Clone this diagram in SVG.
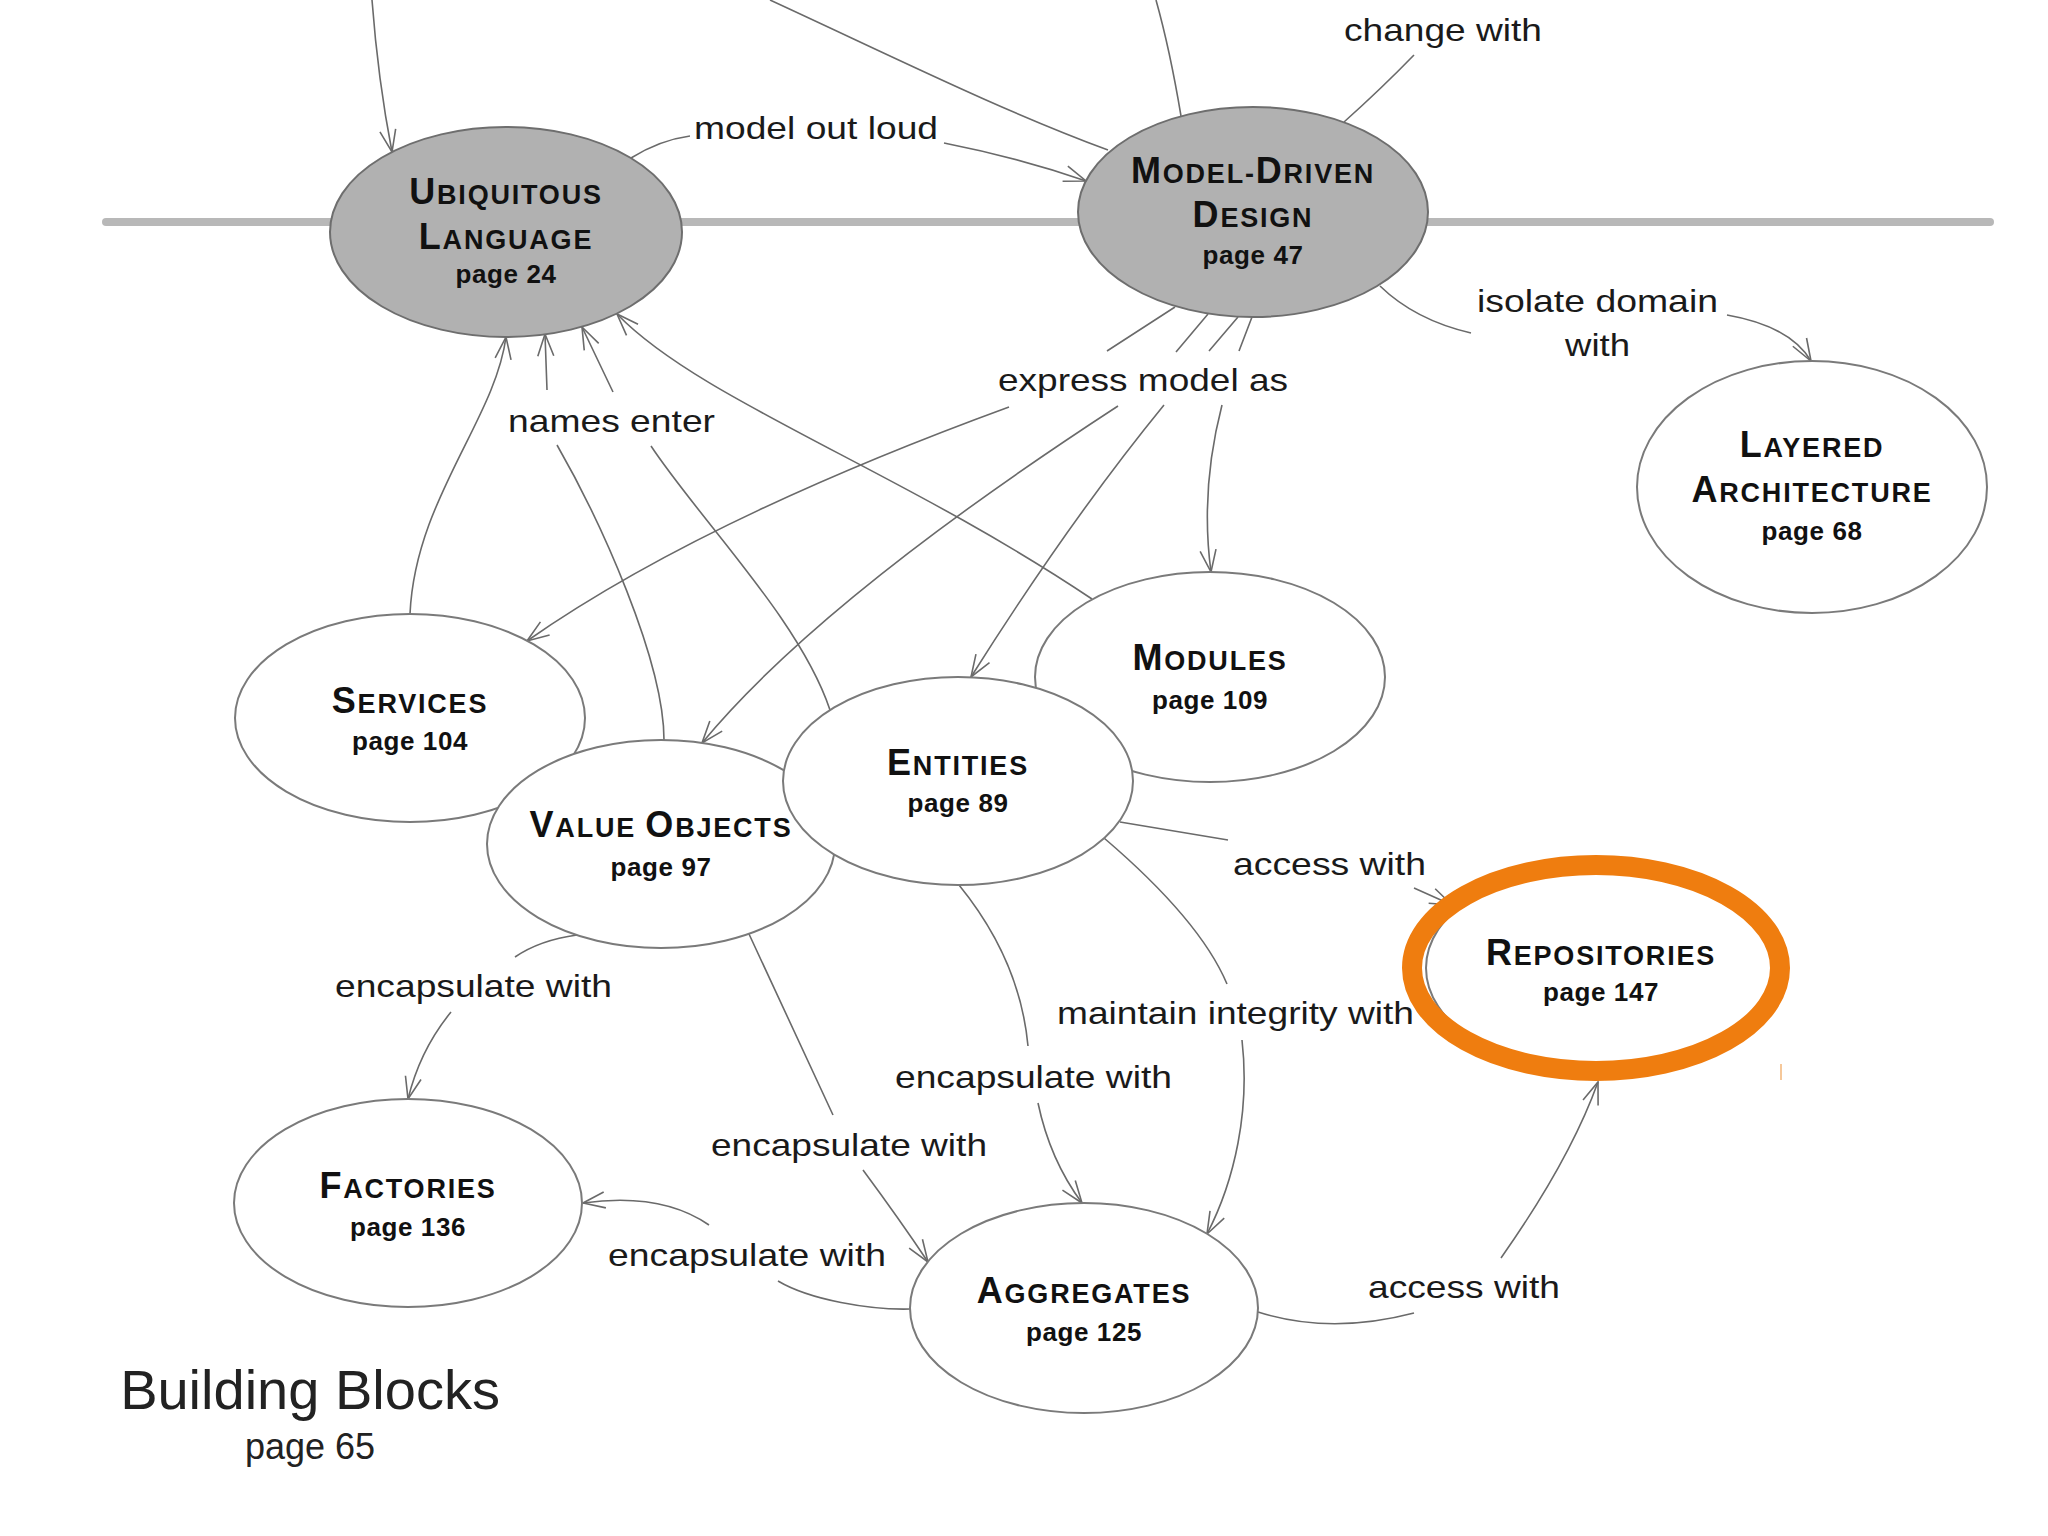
<svg xmlns="http://www.w3.org/2000/svg" width="2048" height="1536" viewBox="0 0 2048 1536">
<defs>
<style>
.band{stroke:#b8b8b8;stroke-width:8;stroke-linecap:round;fill:none}
.node{fill:#fff;stroke:#7a7a7a;stroke-width:2}
.core{fill:#b1b1b1;stroke:#6e6e6e;stroke-width:2}
.conn{fill:none;stroke:#6a6a6a;stroke-width:1.6;marker-end:url(#arr)}
.plain{fill:none;stroke:#6a6a6a;stroke-width:1.6}
.t{font-family:'Liberation Sans',Arial,sans-serif;font-weight:bold;fill:#111;text-anchor:middle;letter-spacing:1.8px}
.b{font-size:36px}
.s{font-size:27px}
.pg{font-family:'Liberation Sans',Arial,sans-serif;font-weight:bold;font-size:26px;fill:#111;text-anchor:middle;letter-spacing:0.6px}
.lbl{font-family:'Liberation Sans',Arial,sans-serif;font-size:32px;fill:#1a1a1a}
.ttl{font-family:'Liberation Sans',Arial,sans-serif;fill:#222;text-anchor:middle}
</style>
<marker id="arr" markerUnits="userSpaceOnUse" markerWidth="30" markerHeight="24" viewBox="-26 -12 28 24" refX="0" refY="0" orient="auto">
<path d="M-22,-8 L0,0 L-22,8" fill="none" stroke="#6a6a6a" stroke-width="1.6"/>
</marker>
</defs>
<rect x="0" y="0" width="2048" height="1536" fill="#fff"/>
<line class="band" x1="106" y1="222" x2="1990" y2="222"/>

<g id="connectors">
<path class="conn" d="M372,0 Q378,80 392,152"/>
<path class="plain" d="M770,0 C900,60 1000,110 1108,150"/>
<path class="plain" d="M1156,0 Q1170,50 1181,116"/>
<path class="plain" d="M1344,122 Q1382,88 1414,55"/>
<path class="conn" d="M631,158 Q660,140 690,136 M944,143 Q1020,158 1086,181"/>
<path class="conn" d="M1380,286 Q1415,320 1471,333 M1727,315 Q1790,326 1811,361"/>
<path class="conn" d="M1175,307 L1107,351 M1009,407 Q700,520 527,641"/>
<path class="conn" d="M1208,314 L1176,352 M1118,406 Q820,600 702,743"/>
<path class="conn" d="M1238,317 L1209,351 M1164,405 Q1070,520 971,677"/>
<path class="conn" d="M1252,317 L1239,351 M1222,405 Q1200,490 1211,572"/>
<path class="conn" d="M410,614 C415,500 495,420 506,337"/>
<path class="conn" d="M664,740 C664,660 600,520 557,445 M547,390 L545,334"/>
<path class="conn" d="M830,710 C800,620 700,520 651,446 M613,392 L582,327"/>
<path class="conn" d="M1092,599 C900,470 700,400 617,314"/>
<path class="conn" d="M577,935 Q540,940 515,957 M451,1012 Q420,1050 408,1099"/>
<path class="conn" d="M749,934 L833,1115 M863,1170 Q900,1220 928,1262"/>
<path class="conn" d="M910,1309 C870,1310 810,1300 778,1281 M709,1225 C680,1205 640,1195 583,1203"/>
<path class="conn" d="M959,885 Q1020,960 1028,1046 M1038,1103 Q1050,1160 1082,1203"/>
<path class="conn" d="M1104,838 Q1200,920 1227,984 M1242,1040 C1250,1110 1235,1180 1207,1234"/>
<path class="conn" d="M1120,822 L1228,840 M1414,888 L1452,905"/>
<path class="conn" d="M1258,1312 Q1330,1335 1414,1313 M1501,1258 Q1570,1160 1598,1082"/>
</g>

<g id="labels">
<text class="lbl" x="1344" y="41" textLength="198" lengthAdjust="spacingAndGlyphs">change with</text>
<text class="lbl" x="694" y="139" textLength="244" lengthAdjust="spacingAndGlyphs">model out loud</text>
<text class="lbl" x="1477" y="312" textLength="241" lengthAdjust="spacingAndGlyphs">isolate domain</text>
<text class="lbl" x="1565" y="356" textLength="65" lengthAdjust="spacingAndGlyphs">with</text>
<text class="lbl" x="998" y="391" textLength="290" lengthAdjust="spacingAndGlyphs">express model as</text>
<text class="lbl" x="508" y="432" textLength="207" lengthAdjust="spacingAndGlyphs">names enter</text>
<text class="lbl" x="335" y="997" textLength="277" lengthAdjust="spacingAndGlyphs">encapsulate with</text>
<text class="lbl" x="711" y="1156" textLength="276" lengthAdjust="spacingAndGlyphs">encapsulate with</text>
<text class="lbl" x="608" y="1266" textLength="278" lengthAdjust="spacingAndGlyphs">encapsulate with</text>
<text class="lbl" x="895" y="1088" textLength="277" lengthAdjust="spacingAndGlyphs">encapsulate with</text>
<text class="lbl" x="1057" y="1024" textLength="357" lengthAdjust="spacingAndGlyphs">maintain integrity with</text>
<text class="lbl" x="1233" y="875" textLength="193" lengthAdjust="spacingAndGlyphs">access with</text>
<text class="lbl" x="1368" y="1298" textLength="192" lengthAdjust="spacingAndGlyphs">access with</text>
</g>

<g id="node-services">
<ellipse class="node" cx="410" cy="718" rx="175" ry="104"/>
<text class="t" x="410" y="713"><tspan class="b">S</tspan><tspan class="s">ERVICES</tspan></text>
<text class="pg" x="410" y="750">page 104</text>
</g>
<g id="node-modules">
<ellipse class="node" cx="1210" cy="677" rx="175" ry="105"/>
<text class="t" x="1210" y="670"><tspan class="b">M</tspan><tspan class="s">ODULES</tspan></text>
<text class="pg" x="1210" y="709">page 109</text>
</g>
<g id="node-value-objects">
<ellipse class="node" cx="661" cy="844" rx="174" ry="104"/>
<text class="t" x="661" y="837"><tspan class="b">V</tspan><tspan class="s">ALUE </tspan><tspan class="b">O</tspan><tspan class="s">BJECTS</tspan></text>
<text class="pg" x="661" y="876">page 97</text>
</g>
<g id="node-entities">
<ellipse class="node" cx="958" cy="781" rx="175" ry="104"/>
<text class="t" x="958" y="775"><tspan class="b">E</tspan><tspan class="s">NTITIES</tspan></text>
<text class="pg" x="958" y="812">page 89</text>
</g>
<g id="node-ubiquitous-language">
<ellipse class="core" cx="506" cy="232" rx="176" ry="105"/>
<text class="t" x="506" y="204"><tspan class="b">U</tspan><tspan class="s">BIQUITOUS</tspan></text>
<text class="t" x="506" y="249"><tspan class="b">L</tspan><tspan class="s">ANGUAGE</tspan></text>
<text class="pg" x="506" y="283">page 24</text>
</g>
<g id="node-model-driven-design">
<ellipse class="core" cx="1253" cy="212" rx="175" ry="105"/>
<text class="t" x="1253" y="183"><tspan class="b">M</tspan><tspan class="s">ODEL-</tspan><tspan class="b">D</tspan><tspan class="s">RIVEN</tspan></text>
<text class="t" x="1253" y="227"><tspan class="b">D</tspan><tspan class="s">ESIGN</tspan></text>
<text class="pg" x="1253" y="264">page 47</text>
</g>
<g id="node-layered-architecture">
<ellipse class="node" cx="1812" cy="487" rx="175" ry="126"/>
<text class="t" x="1812" y="457"><tspan class="b">L</tspan><tspan class="s">AYERED</tspan></text>
<text class="t" x="1812" y="502"><tspan class="b">A</tspan><tspan class="s">RCHITECTURE</tspan></text>
<text class="pg" x="1812" y="540">page 68</text>
</g>
<g id="node-repositories">
<ellipse class="node" cx="1601" cy="968" rx="175" ry="105"/>
<text class="t" x="1601" y="965"><tspan class="b">R</tspan><tspan class="s">EPOSITORIES</tspan></text>
<text class="pg" x="1601" y="1001">page 147</text>
</g>
<g id="node-factories">
<ellipse class="node" cx="408" cy="1203" rx="174" ry="104"/>
<text class="t" x="408" y="1198"><tspan class="b">F</tspan><tspan class="s">ACTORIES</tspan></text>
<text class="pg" x="408" y="1236">page 136</text>
</g>
<g id="node-aggregates">
<ellipse class="node" cx="1084" cy="1308" rx="174" ry="105"/>
<text class="t" x="1084" y="1303"><tspan class="b">A</tspan><tspan class="s">GGREGATES</tspan></text>
<text class="pg" x="1084" y="1341">page 125</text>
</g>

<g id="highlight">
<ellipse cx="1596" cy="968" rx="184" ry="103" fill="none" stroke="#ef7d0f" stroke-width="20"/>
<line x1="1781" y1="1064" x2="1781" y2="1080" stroke="#f6c89a" stroke-width="2"/>
</g>

<g id="title">
<text class="ttl" x="310" y="1409" font-size="56">Building Blocks</text>
<text class="ttl" x="310" y="1459" font-size="36" fill="#333">page 65</text>
</g>
</svg>
